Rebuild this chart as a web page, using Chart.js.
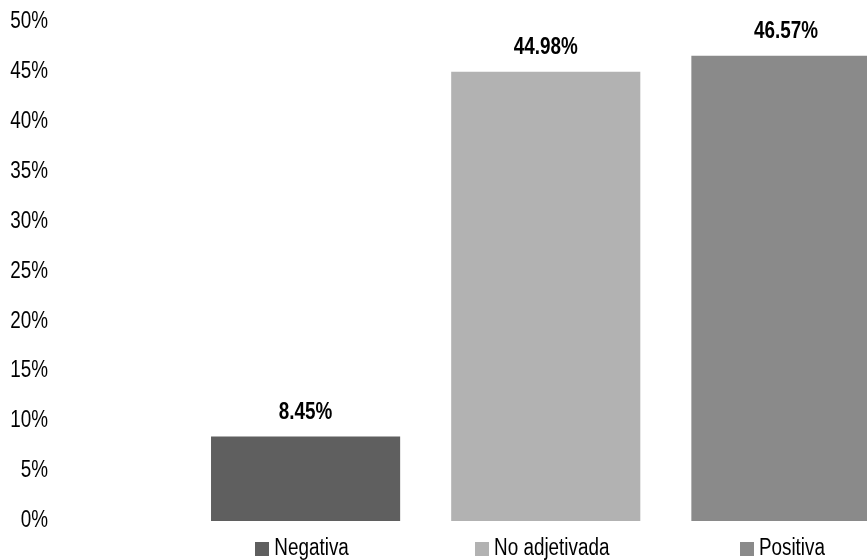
<!DOCTYPE html>
<html>
<head>
<meta charset="utf-8">
<script src="https://cdn.jsdelivr.net/npm/chart.js@4"></script>
<style>
html,body{margin:0;padding:0;overflow:hidden;background:#fff;width:867px;height:560px;}
#wrap{position:relative;width:906px;height:560px;}
canvas{display:block;}
</style>
</head>
<body>
<div id="wrap"><canvas id="c" width="906" height="560"></canvas></div>
<script>
const categories = ['Negativa', 'No adjetivada', 'Positiva'];
const values = [8.45, 44.98, 46.57];
const barColors = ['#5f5f5f', '#b2b2b2', '#8a8a8a'];
const yTickValues = [0, 5, 10, 15, 20, 25, 30, 35, 40, 45, 50];

const FAMILY = "'Liberation Sans', Arial, sans-serif";
const FONT_SIZE = 23;
const NARROW = 0.82;       // Arial Narrow ≈ Arial compressed horizontally
const LABEL_OFFSET = 6;
const X_PAD = 14;

// Emulate a narrow face (Arial Narrow) from Liberation Sans on this canvas
const canvas = document.getElementById('c');
const c2d = canvas.getContext('2d');
const origFill = c2d.fillText.bind(c2d);
const origMeasure = c2d.measureText.bind(c2d);
c2d.fillText = function (t, x, y) {
  this.save();
  this.translate(x, y);
  this.scale(NARROW, 1);
  origFill(t, 0, 0);
  this.restore();
};
c2d.measureText = function (t) {
  const m = origMeasure(t);
  return {
    width: m.width * NARROW,
    actualBoundingBoxAscent: m.actualBoundingBoxAscent,
    actualBoundingBoxDescent: m.actualBoundingBoxDescent,
    actualBoundingBoxLeft: m.actualBoundingBoxLeft * NARROW,
    actualBoundingBoxRight: m.actualBoundingBoxRight * NARROW
  };
};

const valueLabels = {
  id: 'valueLabels',
  afterDatasetsDraw(chart) {
    const ctx = chart.ctx;
    const meta = chart.getDatasetMeta(0);
    ctx.save();
    ctx.font = `bold ${FONT_SIZE}px ${FAMILY}`;
    ctx.fillStyle = '#000';
    ctx.textAlign = 'center';
    ctx.textBaseline = 'middle';
    meta.data.forEach((el, i) => {
      const p = el.getProps(['x', 'y'], true);
      ctx.fillText(values[i].toFixed(2) + '%', p.x, p.y - 24);
    });
    ctx.restore();
  }
};

const legendSquares = {
  id: 'legendSquares',
  afterDraw(chart) {
    const ctx = chart.ctx;
    const xs = chart.scales.x;
    ctx.save();
    ctx.font = `normal ${FONT_SIZE}px ${FAMILY}`;
    const cy = xs.top + X_PAD + FONT_SIZE * 1.2 / 2;
    categories.forEach((lab, i) => {
      const w = ctx.measureText(lab).width;
      const x = xs.getPixelForTick(i) + LABEL_OFFSET;
      const right = x - w / 2 - 5;
      ctx.fillStyle = barColors[i];
      ctx.fillRect(Math.round(right - 14), Math.round(cy - 7), 14, 14);
    });
    ctx.restore();
  }
};

new Chart(canvas, {
  type: 'bar',
  data: {
    labels: categories,
    datasets: [{
      data: values,
      backgroundColor: barColors,
      borderWidth: 0,
      categoryPercentage: 1,
      barPercentage: 0.7875
    }]
  },
  options: {
    responsive: false,
    devicePixelRatio: 1,
    animation: false,
    events: [],
    layout: { padding: { top: 21.5, left: 0, right: 0, bottom: 0 } },
    plugins: {
      legend: { display: false },
      tooltip: { enabled: false }
    },
    scales: {
      x: {
        offset: true,
        grid: { display: false, drawTicks: false },
        border: { display: false },
        ticks: {
          color: '#000',
          font: { family: FAMILY, size: FONT_SIZE },
          padding: X_PAD,
          labelOffset: LABEL_OFFSET,
          autoSkip: false,
          maxRotation: 0
        },
        afterFit(s) { s.height = 39; s.paddingLeft = 0; s.paddingRight = 0; }
      },
      y: {
        min: 0,
        max: 50,
        grid: { display: false, drawTicks: false },
        border: { display: false },
        afterBuildTicks(s) { s.ticks = yTickValues.map(v => ({ value: v })); },
        ticks: {
          color: '#000',
          font: { family: FAMILY, size: FONT_SIZE },
          padding: 137.5,
          callback: v => v + '%'
        },
        afterFit(s) { s.width = 185.5; s.paddingTop = 0; s.paddingBottom = 0; }
      }
    }
  },
  plugins: [valueLabels, legendSquares]
});
</script>
</body>
</html>
